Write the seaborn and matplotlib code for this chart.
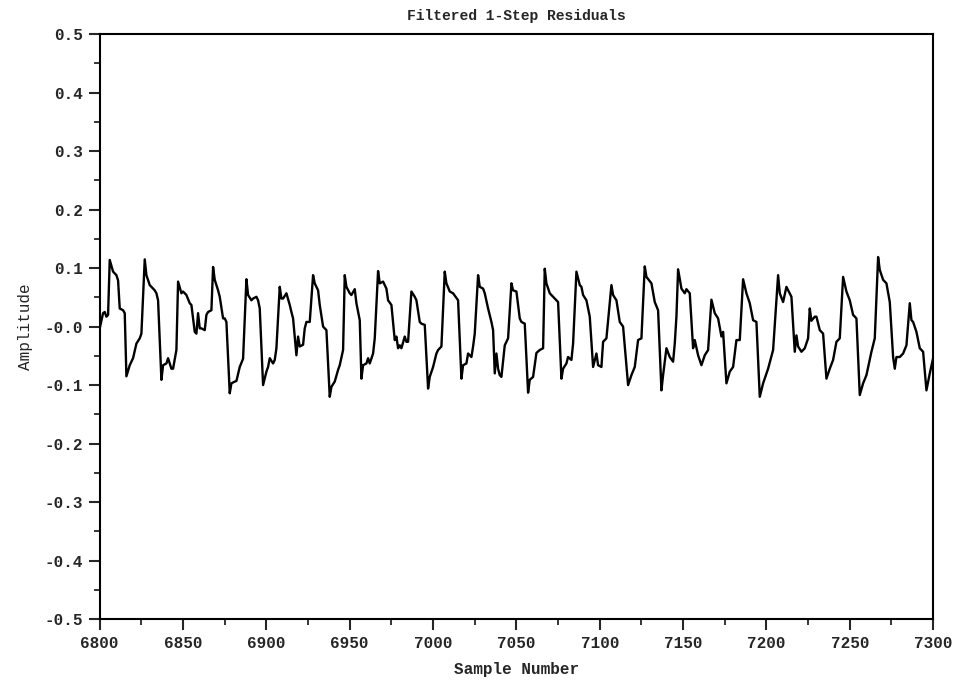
import numpy as np
import pandas as pd
import matplotlib
matplotlib.use('Agg')
import matplotlib.pyplot as plt
from matplotlib.ticker import MultipleLocator, FixedLocator
import seaborn as sns

# sample index / residual amplitude
samples = [
    6800, 6802, 6803, 6804, 6805, 6806, 6808, 6810, 6811, 6812, 6814, 6815,
    6816, 6818, 6820, 6822, 6824, 6825, 6827, 6828, 6830, 6833, 6834, 6835,
    6837, 6838, 6840, 6841, 6843, 6844, 6846, 6847, 6849, 6850, 6852, 6854,
    6855, 6857, 6858, 6859, 6860, 6861, 6863, 6864, 6865, 6867, 6868, 6869,
    6871, 6872, 6874, 6875, 6876, 6878, 6879, 6881, 6882, 6884, 6886, 6888,
    6889, 6891, 6892, 6894, 6895, 6896, 6898, 6900, 6901, 6902, 6904, 6905,
    6906, 6908, 6909, 6910, 6912, 6914, 6915, 6916, 6918, 6919, 6920, 6922,
    6923, 6924, 6926, 6928, 6929, 6931, 6932, 6934, 6936, 6938, 6939, 6941,
    6943, 6944, 6946, 6947, 6948, 6950, 6951, 6953, 6954, 6956, 6957, 6958,
    6960, 6961, 6962, 6964, 6965, 6967, 6968, 6970, 6972, 6973, 6975, 6977,
    6978, 6979, 6980, 6981, 6983, 6984, 6985, 6987, 6989, 6990, 6992, 6993,
    6995, 6997, 6998, 7000, 7002, 7003, 7005, 7007, 7008, 7010, 7012, 7015,
    7017, 7018, 7020, 7021, 7023, 7024, 7025, 7027, 7028, 7030, 7031, 7033,
    7035, 7036, 7037, 7038, 7039, 7040, 7041, 7043, 7045, 7047, 7048, 7050,
    7052, 7053, 7055, 7057, 7058, 7060, 7062, 7064, 7066, 7067, 7068, 7070,
    7072, 7075, 7077, 7078, 7080, 7081, 7083, 7084, 7086, 7088, 7089, 7090,
    7092, 7094, 7096, 7098, 7099, 7101, 7102, 7104, 7107, 7108, 7110, 7112,
    7114, 7117, 7119, 7121, 7123, 7125, 7127, 7128, 7131, 7133, 7135, 7137,
    7138, 7140, 7142, 7144, 7145, 7146, 7147, 7149, 7151, 7152, 7154, 7156,
    7157, 7159, 7161, 7163, 7165, 7167, 7169, 7171, 7173, 7174, 7176, 7178,
    7180, 7182, 7184, 7186, 7188, 7190, 7192, 7194, 7196, 7198, 7201, 7204,
    7207, 7208, 7210, 7212, 7215, 7217, 7218, 7219, 7221, 7223, 7225, 7226,
    7227, 7229, 7230, 7232, 7234, 7236, 7238, 7240, 7242, 7244, 7246, 7248,
    7250, 7252, 7254, 7256, 7258, 7260, 7263, 7265, 7267, 7268, 7270, 7272,
    7274, 7276, 7277, 7278, 7280, 7282, 7284, 7286, 7287, 7288, 7290, 7292,
    7294, 7296, 7298, 7300,
]
amplitude = [
    -0.003, 0.023, 0.025, 0.017, 0.020, 0.114, 0.094, 0.088, 0.079, 0.031, 0.028, 0.023,
    -0.085, -0.066, -0.054, -0.029, -0.020, -0.012, 0.115, 0.088, 0.071, 0.062, 0.057, 0.045,
    -0.091, -0.066, -0.063, -0.054, -0.072, -0.072, -0.040, 0.077, 0.057, 0.060, 0.054, 0.040,
    0.037, -0.009, -0.012, 0.023, -0.003, -0.003, -0.006, 0.020, 0.025, 0.028, 0.102, 0.080,
    0.062, 0.051, 0.014, 0.014, 0.008, -0.114, -0.097, -0.094, -0.093, -0.069, -0.055, 0.081,
    0.054, 0.045, 0.048, 0.051, 0.045, 0.031, -0.100, -0.077, -0.069, -0.054, -0.063, -0.057,
    -0.037, 0.068, 0.048, 0.048, 0.057, 0.037, 0.025, 0.014, -0.049, -0.017, -0.034, -0.031,
    -0.003, 0.008, 0.008, 0.088, 0.074, 0.062, 0.037, 0.000, -0.006, -0.120, -0.103, -0.094,
    -0.074, -0.066, -0.040, 0.088, 0.068, 0.057, 0.054, 0.064, 0.040, 0.011, -0.089, -0.066,
    -0.063, -0.054, -0.063, -0.046, -0.020, 0.095, 0.074, 0.077, 0.065, 0.045, 0.037, -0.023,
    -0.017, -0.037, -0.032, -0.037, -0.017, -0.026, -0.026, 0.060, 0.051, 0.045, 0.008, 0.005,
    0.003, -0.106, -0.086, -0.069, -0.046, -0.040, -0.034, 0.094, 0.074, 0.060, 0.057, 0.045,
    -0.089, -0.066, -0.063, -0.046, -0.052, -0.034, -0.012, 0.088, 0.068, 0.065, 0.057, 0.031,
    0.008, -0.006, -0.080, -0.046, -0.072, -0.083, -0.086, -0.032, -0.020, 0.074, 0.062, 0.060,
    0.014, 0.008, 0.005, -0.113, -0.091, -0.086, -0.045, -0.040, -0.037, 0.099, 0.074, 0.057,
    0.051, 0.042, -0.089, -0.072, -0.063, -0.052, -0.057, -0.029, 0.094, 0.071, 0.068, 0.054,
    0.045, 0.017, -0.069, -0.046, -0.066, -0.069, -0.026, -0.020, 0.071, 0.054, 0.045, 0.008,
    0.000, -0.100, -0.083, -0.069, -0.023, -0.020, 0.103, 0.085, 0.074, 0.042, 0.028, -0.109,
    -0.083, -0.037, -0.052, -0.060, -0.029, 0.017, 0.098, 0.065, 0.057, 0.064, 0.057, -0.037,
    -0.023, -0.049, -0.066, -0.049, -0.040, 0.046, 0.023, 0.014, -0.017, -0.009, -0.097, -0.077,
    -0.069, -0.023, -0.023, 0.081, 0.057, 0.040, 0.011, 0.008, -0.120, -0.097, -0.072, -0.040,
    0.088, 0.057, 0.042, 0.068, 0.051, -0.043, -0.015, -0.034, -0.043, -0.037, -0.020, 0.031,
    0.010, 0.017, 0.017, -0.006, -0.012, -0.089, -0.072, -0.057, -0.026, -0.020, 0.085, 0.060,
    0.045, 0.020, 0.014, -0.117, -0.097, -0.083, -0.043, -0.020, 0.119, 0.097, 0.080, 0.074,
    0.042, -0.052, -0.072, -0.052, -0.052, -0.046, -0.032, 0.040, 0.011, 0.008, -0.009, -0.037,
    -0.043, -0.109, -0.080, -0.054,
]

y_ticks = [0.5, 0.4, 0.3, 0.2, 0.1, 0.0, -0.1, -0.2, -0.3, -0.4, -0.5]
y_tick_labels = ['0.5', '0.4', '0.3', '0.2', '0.1', '-0.0',
                 '-0.1', '-0.2', '-0.3', '-0.4', '-0.5']

df = pd.DataFrame({'Sample Number': samples, 'Amplitude': amplitude})

sns.set_style('white')
plt.rcParams['font.family'] = ['Liberation Mono', 'DejaVu Sans Mono']
plt.rcParams['font.weight'] = 'bold'

fig = plt.figure(figsize=(9.59, 6.84), dpi=100)
ax = fig.add_axes([0.104, 0.095, 0.869, 0.855])

sns.lineplot(data=df, x='Sample Number', y='Amplitude', color='black',
             linewidth=1.7, ax=ax)

ax.set_xlim(6800, 7300)
ax.set_ylim(-0.5, 0.5)
ax.xaxis.set_major_locator(MultipleLocator(50))
ax.xaxis.set_minor_locator(MultipleLocator(25))
ax.yaxis.set_major_locator(FixedLocator(y_ticks))
ax.set_yticklabels(y_tick_labels)
ax.yaxis.set_minor_locator(MultipleLocator(0.05))

ax.tick_params(axis='both', which='major', direction='out', length=8, width=1.5,
               labelsize=11.5, bottom=True, left=True, top=False, right=False, pad=4)
ax.tick_params(axis='both', which='minor', direction='out', length=4, width=1.3,
               bottom=True, left=True, top=False, right=False)
for s in ax.spines.values():
    s.set_linewidth(1.5)
    s.set_color('black')

ax.set_title('Filtered 1-Step Residuals', fontsize=10.5, fontweight='bold', pad=10)
ax.set_xlabel('Sample Number', fontsize=11.5, fontweight='bold', labelpad=8)
ax.set_ylabel('Amplitude', fontsize=11.5, fontweight='normal', labelpad=8)

fig.savefig('out.png', dpi=100)
